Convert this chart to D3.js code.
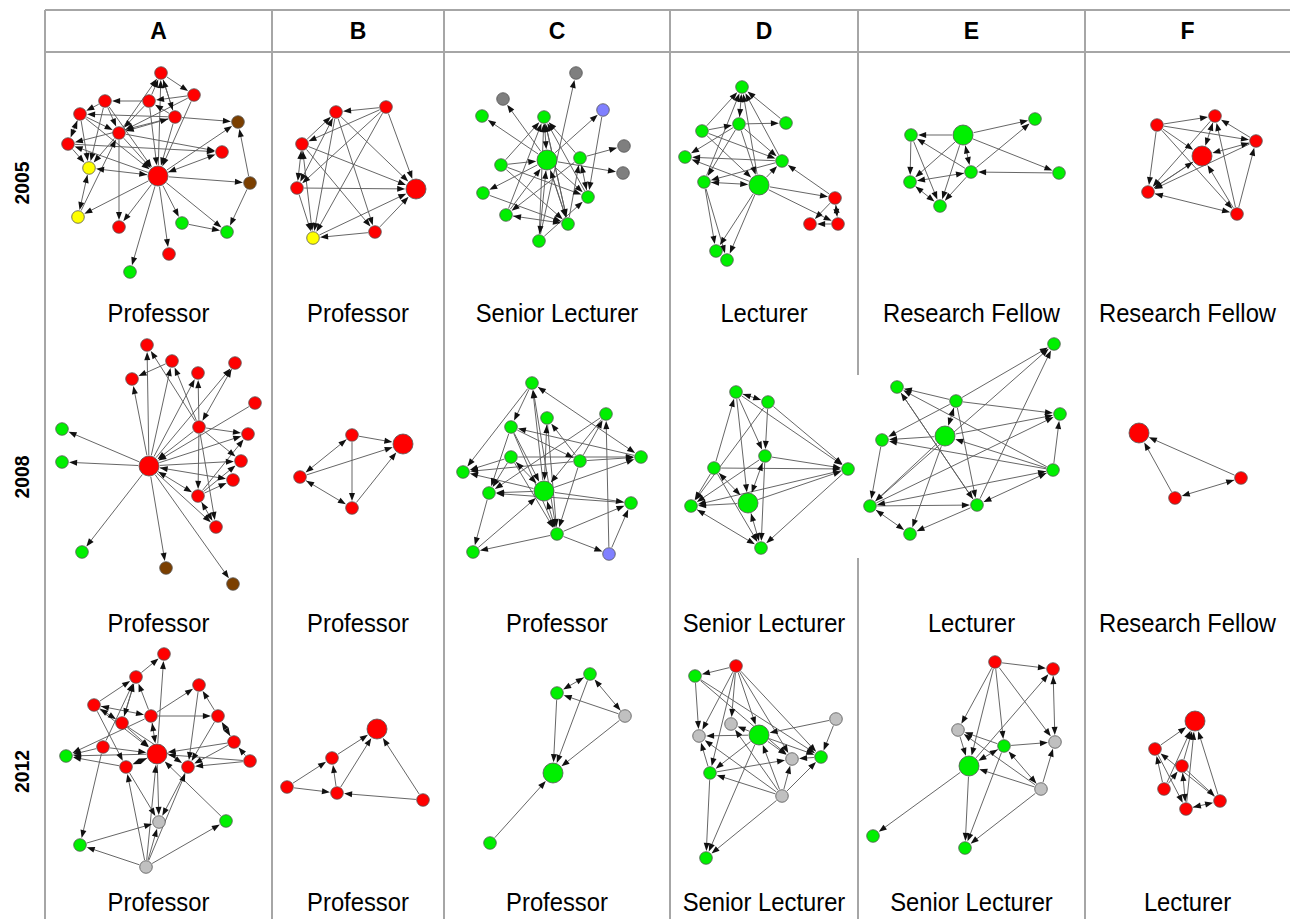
<!DOCTYPE html>
<html><head><meta charset="utf-8">
<script src="https://cdn.jsdelivr.net/npm/d3@7"></script>
<style>body{margin:0;background:#fff}svg{display:block}</style>
</head><body><svg id="c" width="1293" height="919"></svg>
<script>
// ---------------- DATA ----------------
const columns = ["A","B","C","D","E","F"];
const years = ["2005","2008","2012"];
const labels2005 = ["Professor","Professor","Senior Lecturer","Lecturer","Research Fellow","Research Fellow"];
const labels2008 = ["Professor","Professor","Professor","Senior Lecturer","Lecturer","Research Fellow"];
const labels2012 = ["Professor","Professor","Professor","Senior Lecturer","Senior Lecturer","Lecturer"];

// node = [layoutX, layoutY, group, isEgo]   (layout coordinates inside each cell)
const nodesA2005 = [[116,21,'R'],[149,43,'R'],[60,49,'R'],[104,49,'R'],[35,62,'R'],[130,65,'R'],[193,70,'K'],[74,81,'R'],[23,92,'R'],[177,100,'R'],[44,116,'Y'],[113,124,'R',1],[205,131,'K'],[33,165,'Y'],[74,175,'R'],[137,171,'G'],[182,180,'G'],[124,202,'R'],[85,220,'G']];
const edgesA2005 = "11>0 3>0 5>0 7>0 0>1 1>3 3>2 2>4 4<>8 5>4 5>6 12>6 12>16 11>12 11<>9 7>9 11>6 11<>10 11>13 11>14 7>14 11>15 11>16 11>17 11>18 10<>13 8>10 4>10 2>10 7>10 11>8 7>11 3>11 5>11 1>11 5>3 4>7 2>7 5<>7 8>9 5>8 15>16 1>7 2>11 4>11 13>7 0>5 3>7";
const nodesB2005 = [[114,55,'R'],[64,60,'R'],[30,92,'R'],[25,136,'R'],[144,137,'R',1],[103,180,'R'],[41,186,'Y']];
const edgesB2005 = "0>1 0>4 0>2 0>6 0>3 1>4 1>5 1>6 1<>3 2>4 2>5 2<>3 2<>6 3>4 3>6 5>4 5>6 6>4 2>1";
const nodesC2005 = [[132,21,'D'],[59,47,'D'],[159,58,'U'],[38,64,'G'],[100,65,'G'],[180,94,'D'],[103,108,'G',1],[136,106,'G'],[57,113,'G'],[179,121,'D'],[39,141,'G'],[144,145,'G'],[62,163,'G'],[124,172,'G'],[95,189,'G']];
const edgesC2005 = "6>3 6>1 14>0 6>2 7>5 6>9 2>11 8>6 4<>6 8>4 12>4 13>4 6>10 8>11 8>13 6>11 6>13 6<>14 12>6 13>6 11<>7 13>7 12<>13 10>13 14>11 7>12 14>4 11>4 7>4 4>13";
const nodesD2005 = [[72,35,'G'],[69,72,'G'],[116,71,'G'],[32,79,'G'],[15,105,'G'],[112,109,'G'],[34,130,'G'],[89,133,'G',1],[165,146,'R'],[140,172,'R'],[168,172,'R'],[46,199,'G'],[57,208,'G']];
const edgesD2005 = "3>0 1<>0 6>0 7>0 5>0 2>0 3>1 1>2 1>7 1>6 1>5 3>5 3>7 7>4 5>4 6<>7 5>6 7>5 7>8 7>10 8>5 8<>10 10>9 8>9 6>11 6>12 7>11 7>12 1>4";
const nodesE2005 = [[53,83,'G'],[105,83,'G',1],[177,67,'G'],[201,121,'G'],[113,120,'G'],[52,130,'G'],[82,154,'G']];
const edgesE2005 = "1>0 1>2 1>3 1<>4 4>0 4>2 3>4 4<>5 4>6 0>5 0>6 1>5 1>6 5<>6";
const nodesF2005 = [[72,73,'R'],[130,64,'R'],[171,89,'R'],[117,104,'R',1],[63,140,'R'],[152,162,'R']];
const edgesF2005 = "0>1 0>2 0>4 0>3 2>1 1<>3 2<>3 4>3 5>1 5>2 5>3 0>5 4<>5 1>4 2>4 3>4";

const nodesA2008 = [[102,15,'R'],[127,31,'R'],[87,49,'R'],[153,43,'R'],[190,33,'R'],[210,73,'R'],[154,97,'R'],[17,99,'G'],[203,104,'R'],[17,132,'G'],[104,136,'R',1],[196,131,'R'],[188,150,'R'],[153,166,'R'],[171,197,'R'],[37,222,'G'],[121,238,'K'],[188,254,'K']];
const edgesA2008 = "10>0 10>2 1>2 10>1 10>3 6>0 6>1 6>3 4<>6 5>10 10>7 10>9 10>15 10>16 10>17 10>8 10>11 10<>12 10<>13 10>14 6>10 6>8 6>11 6>13 6>14 13>8 13>11 13>12 13<>14 10>4";
const nodesB2008 = [[80,105,'R'],[131,114,'R',1],[28,147,'R'],[80,178,'R']];
const edgesB2008 = "0>1 0<>2 0>3 2>1 2<>3 3>1";
const nodesC2008 = [[88,53,'G'],[103,88,'G'],[162,84,'G'],[67,97,'G'],[67,127,'G'],[136,131,'G'],[197,127,'G'],[19,142,'G'],[45,163,'G'],[100,161,'G',1],[187,173,'G'],[113,204,'G'],[29,222,'G'],[165,224,'U']];
const edgesC2008 = "0>7 0>3 9>0 11>0 0<>6 1<>9 5>1 3>9 4>6 4>7 4>8 4<>9 5>7 5>6 5>2 2>9 13>2 13>10 11>13 9>7 9>8 9>10 9>6 9<>11 8>12 11>12 11>10 12>9 3>11 4>11 3>8 5>11 10>8 3>5 1>11 2>8 6>3";
const nodesD2008 = [[66,62,'G'],[98,72,'G'],[95,126,'G'],[44,138,'G'],[178,139,'G'],[21,176,'G'],[78,173,'G',1],[91,218,'G']];
const edgesD2008 = "0<>1 0>2 0>6 1>4 0>4 1>2 1>5 3>0 3>4 3>5 3<>6 3>7 2>5 2<>6 2>4 6>4 6>5 5<>7 6<>7 4>7 4>5 2>7";
const nodesE2008 = [[196,14,'G'],[39,57,'G'],[98,71,'G'],[202,84,'G'],[24,110,'G'],[87,106,'G',1],[195,140,'G'],[12,176,'G'],[119,175,'G'],[52,204,'G']];
const edgesE2008 = "2>0 8>0 2>1 6>1 8>1 2<>5 2>3 2>4 5>4 6>4 5>3 7>3 6>3 5>7 6<>7 7>8 6<>8 2>8 1>8 5>9 7<>9 8>9 4>7 6>5 7>0";
const nodesF2008 = [[54,103,'R',1],[156,148,'R'],[90,168,'R']];
const edgesF2008 = "1>0 2>0 1<>2";

const nodesA2012 = [[119,14,'R'],[91,37,'R'],[154,45,'R'],[49,65,'R'],[106,76,'R'],[173,76,'R'],[77,83,'R'],[189,102,'R'],[58,107,'R'],[21,116,'G'],[112,114,'R',1],[205,121,'R'],[81,127,'R'],[143,127,'R'],[114,182,'L'],[181,181,'G'],[35,205,'G'],[101,227,'L']];
const edgesA2012 = "1>0 10>0 3>1 4>1 6>1 8>1 4>2 5>2 3<>4 3>12 3<>6 4>5 7<>5 6>10 6>13 8>10 8>9 10>9 4>9 12>9 7>10 11>10 11>13 7>13 10<>12 4<>10 10>14 12>14 13>14 8>16 16>14 17>14 17>16 17>15 17>10 17>12 17>13 5>13 1>6 3>10 15>10 2>13 11>7";
const nodesB2012 = [[105,89,'R',1],[60,118,'R'],[15,147,'R'],[65,153,'R'],[151,160,'R']];
const edgesB2012 = "1>0 2>1 2>3 3>1 3>0 4>0 4>3";
const nodesC2012 = [[146,34,'G'],[113,53,'G'],[181,76,'L'],[109,133,'G',1],[46,203,'G']];
const edgesC2012 = "0<>1 2<>0 2>1 1>3 0>3 2>3 4>3";
const nodesD2012 = [[66,26,'R'],[25,36,'G'],[166,79,'L'],[61,84,'L'],[29,96,'L'],[89,95,'G',1],[122,119,'L'],[151,117,'G'],[40,133,'G'],[112,156,'L'],[36,218,'G']];
const edgesD2012 = "0>1 0>4 0>3 0>5 0>8 0>6 0>7 1>4 1>6 1>7 2>5 2>7 5>3 5>4 5>6 5>7 5>8 5>10 8>4 8>6 9>8 9>4 9>5 9>3 9>6 9>7 9>10 8>10 7>6";
const nodesE2012 = [[137,22,'R'],[195,29,'R'],[100,90,'L'],[197,102,'L'],[146,106,'G'],[111,126,'G',1],[183,149,'L'],[15,196,'G'],[107,208,'G']];
const edgesE2012 = "0>1 0>2 0>5 0>4 0>3 1<>3 5>1 4>3 4<>5 4>2 6>2 6<>4 6>5 6>3 6>8 5>7 5>8 4>8 2>5";
const nodesF2012 = [[110,81,'R',1],[70,109,'R'],[97,126,'R'],[79,149,'R'],[135,161,'R'],[101,169,'R']];
const edgesF2012 = "1>0 2>0 3>0 5>0 4>0 3>1 4>1 2<>5 2>4 5<>4 1>5 3>2";

const grid = [
  [[nodesA2005,edgesA2005],[nodesB2005,edgesB2005],[nodesC2005,edgesC2005],[nodesD2005,edgesD2005],[nodesE2005,edgesE2005],[nodesF2005,edgesF2005]],
  [[nodesA2008,edgesA2008],[nodesB2008,edgesB2008],[nodesC2008,edgesC2008],[nodesD2008,edgesD2008],[nodesE2008,edgesE2008],[nodesF2008,edgesF2008]],
  [[nodesA2012,edgesA2012],[nodesB2012,edgesB2012],[nodesC2012,edgesC2012],[nodesD2012,edgesD2012],[nodesE2012,edgesE2012],[nodesF2012,edgesF2012]]
];
const rowLabels = [labels2005, labels2008, labels2012];

// ---------------- LAYOUT / STYLE ----------------
const colEdges = [45,272,444,670,858,1085,1290];
const rowEdges = [52,330,640,919];
const headerTop = 10;
const groupColor = {R:"#ff0000",G:"#00f000",Y:"#ffff00",K:"#7b3f00",D:"#7f7f7f",L:"#c0c0c0",U:"#8080ff"};
const lineColor = "#a6a6a6";

const svg = d3.select("#c");

// Table lines
const gLines = svg.append("g");
gLines.append("line").attr("x1",colEdges[0]).attr("x2",colEdges[6]).attr("y1",headerTop).attr("y2",headerTop)
  .attr("stroke",lineColor).attr("stroke-width",2);
gLines.append("line").attr("x1",colEdges[0]).attr("x2",colEdges[6]).attr("y1",rowEdges[0]).attr("y2",rowEdges[0])
  .attr("stroke",lineColor).attr("stroke-width",2);
colEdges.slice(0,6).forEach(x=>{
  gLines.append("line").attr("x1",x).attr("x2",x).attr("y1",headerTop).attr("y2",919)
    .attr("stroke",lineColor).attr("stroke-width",2);
});
// white backdrop of the E-2008 picture (hides part of the grid line as in the original)
svg.append("rect").attr("x",colEdges[4]-3).attr("y",375).attr("width",8).attr("height",183).attr("fill","#fff");

// Header letters
svg.selectAll("text.hdr").data(columns).join("text").attr("class","hdr")
  .attr("transform",(d,i)=>`translate(${(colEdges[i]+colEdges[i+1])/2},39)`)
  .attr("text-anchor","middle").attr("font-family","Liberation Sans, Arial, sans-serif")
  .attr("font-weight","bold").attr("font-size",23).attr("fill","#000").text(d=>d);

// Row labels (years)
svg.selectAll("text.yr").data(years).join("text").attr("class","yr")
  .attr("transform",(d,i)=>`translate(29,${(rowEdges[i]+rowEdges[i+1])/2 - 8}) rotate(-90) scale(0.92,1)`)
  .attr("text-anchor","middle").attr("font-family","Liberation Sans, Arial, sans-serif")
  .attr("font-weight","bold").attr("font-size",21).attr("fill","#000").text(d=>d);

function parseEdges(s){
  return s.trim().split(/\s+/).map(t=>{
    const both = t.includes("<>");
    const p = t.split(both?"<>":">").map(Number);
    return {s:p[0], t:p[1], both};
  });
}

const AL = 8, AW = 6;
function arrowHead(tx,ty,ux,uy){
  const bx = tx-ux*AL, by = ty-uy*AL, nx=-uy, ny=ux;
  return `M${tx},${ty}L${bx+nx*AW/2},${by+ny*AW/2}L${bx-nx*AW/2},${by-ny*AW/2}Z`;
}

grid.forEach((row,ri)=>{
  row.forEach(([nodes,edgeStr],ci)=>{
    const x0=colEdges[ci], x1=colEdges[ci+1], y0=rowEdges[ri], y1=rowEdges[ri+1];
    const xs = d3.scaleLinear().domain([0,x1-x0]).range([x0,x1]);
    const ys = d3.scaleLinear().domain([0,y1-y0]).range([y0,y1]);
    const rs = d => d[3] ? 10 : 6.3;
    const edges = parseEdges(edgeStr);
    const g = svg.append("g");
    const geo = edges.map(e=>{
      const a=nodes[e.s], b=nodes[e.t];
      const ax=xs(a[0]), ay=ys(a[1]), bx=xs(b[0]), by=ys(b[1]);
      const L=Math.hypot(bx-ax,by-ay), ux=(bx-ax)/L, uy=(by-ay)/L;
      const ra=rs(a)+0.8, rb=rs(b)+0.8;
      return {both:e.both, sx:ax+ux*ra, sy:ay+uy*ra, tx:bx-ux*rb, ty:by-uy*rb, ux, uy};
    });
    g.selectAll("line").data(geo).join("line")
      .attr("x1",d=>d.sx).attr("y1",d=>d.sy).attr("x2",d=>d.tx-d.ux*AL*0.6).attr("y2",d=>d.ty-d.uy*AL*0.6)
      .attr("stroke","#5e5e5e").attr("stroke-width",0.95);
    g.selectAll("path.h").data(geo).join("path").attr("class","h")
      .attr("d",d=>arrowHead(d.tx,d.ty,d.ux,d.uy)+(d.both?arrowHead(d.sx,d.sy,-d.ux,-d.uy):""))
      .attr("fill","#111");
    g.selectAll("circle").data(nodes).join("circle")
      .attr("cx",d=>xs(d[0])).attr("cy",d=>ys(d[1])).attr("r",rs)
      .attr("fill",d=>groupColor[d[2]]).attr("stroke","#555").attr("stroke-width",0.8);
    // label
    svg.append("text")
      .attr("transform",`translate(${(x0+x1)/2},${y1-8}) scale(0.915,1)`)
      .attr("text-anchor","middle").attr("font-family","Liberation Sans, Arial, sans-serif")
      .attr("font-size",26).attr("fill","#000").text(rowLabels[ri][ci]);
  });
});
</script>
</body></html>
